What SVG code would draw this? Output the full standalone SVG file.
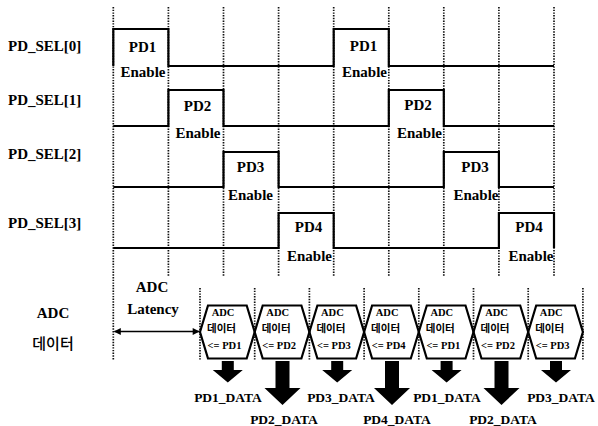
<svg xmlns="http://www.w3.org/2000/svg" width="598" height="426" viewBox="0 0 598 426">
<style>
.t{font-family:"Liberation Serif","Times New Roman",serif;font-weight:bold;fill:#000}
.lbl{font-size:15px}
.pd{font-size:15px;text-anchor:middle}
.hx{font-size:10.5px;text-anchor:middle}
.kr{font-family:"Noto Sans CJK KR",sans-serif;font-weight:500;fill:#000;text-anchor:middle}
.krb{font-family:"Noto Sans CJK KR",sans-serif;font-weight:bold;fill:#000;text-anchor:middle;font-size:10.5px}
.dl{font-size:13.5px;text-anchor:middle}
.grid{stroke:#111;stroke-width:1.7;stroke-dasharray:1.4 1.3;fill:none}
.wave{stroke:#000;stroke-width:2.2;fill:none;stroke-linejoin:miter}
.hex{stroke:#000;stroke-width:2.2;fill:none}
.blk{fill:#000}
</style>
<defs>
<marker id="ah" viewBox="0 0 10 10" refX="9" refY="5" markerWidth="8" markerHeight="7" markerUnits="userSpaceOnUse" orient="auto-start-reverse">
<path d="M0,0 L10,5 L0,10 z" fill="#000"/>
</marker>
</defs>
<rect width="598" height="426" fill="#fff"/>

<g id="grid">
<line class="grid" x1="113.3" y1="7" x2="113.3" y2="360"/>
<line class="grid" x1="168.4" y1="7" x2="168.4" y2="276"/>
<line class="grid" x1="223.5" y1="7" x2="223.5" y2="276"/>
<line class="grid" x1="278.6" y1="7" x2="278.6" y2="276"/>
<line class="grid" x1="333.7" y1="7" x2="333.7" y2="276"/>
<line class="grid" x1="388.8" y1="7" x2="388.8" y2="276"/>
<line class="grid" x1="443.8" y1="7" x2="443.8" y2="276"/>
<line class="grid" x1="498.9" y1="7" x2="498.9" y2="276"/>
<line class="grid" x1="554" y1="7" x2="554" y2="276"/>
<line class="grid" x1="200" y1="288" x2="200" y2="360"/>
<line class="grid" x1="254.7" y1="288" x2="254.7" y2="360"/>
<line class="grid" x1="309.4" y1="288" x2="309.4" y2="360"/>
<line class="grid" x1="364.1" y1="288" x2="364.1" y2="360"/>
<line class="grid" x1="418.8" y1="288" x2="418.8" y2="360"/>
<line class="grid" x1="473.5" y1="288" x2="473.5" y2="360"/>
<line class="grid" x1="528.2" y1="288" x2="528.2" y2="360"/>
<line class="grid" x1="582.9" y1="288" x2="582.9" y2="360"/>
</g>

<g id="pd_sel0">
<text class="t lbl" x="8" y="51">PD_SEL[0]</text>
<path class="wave" d="M113.3,66 V29 H168.4 V66 H333.7 V29 H388.8 V66 H554"/>
<text class="t pd" x="142.5" y="52">PD1</text>
<text class="t pd" x="143" y="77">Enable</text>
<text class="t pd" x="363.5" y="51">PD1</text>
<text class="t pd" x="364.5" y="77">Enable</text>
</g>

<g id="pd_sel1">
<text class="t lbl" x="8" y="105">PD_SEL[1]</text>
<path class="wave" d="M113.3,126 H168.4 V90 H223.5 V126 H388.8 V90 H443.8 V126 H554"/>
<text class="t pd" x="197.5" y="111">PD2</text>
<text class="t pd" x="198" y="138">Enable</text>
<text class="t pd" x="418" y="110">PD2</text>
<text class="t pd" x="419.5" y="138">Enable</text>
</g>

<g id="pd_sel2">
<text class="t lbl" x="8" y="159">PD_SEL[2]</text>
<path class="wave" d="M113.3,187 H223.5 V152 H278.6 V187 H443.8 V152 H498.9 V187 H554"/>
<text class="t pd" x="250.5" y="171.5">PD3</text>
<text class="t pd" x="250.5" y="200">Enable</text>
<text class="t pd" x="475" y="171.5">PD3</text>
<text class="t pd" x="476" y="200">Enable</text>
</g>

<g id="pd_sel3">
<text class="t lbl" x="8" y="228">PD_SEL[3]</text>
<path class="wave" d="M113.3,248 H278.6 V213 H333.7 V248 H498.9 V213 H554 V248"/>
<text class="t pd" x="308.5" y="231.5">PD4</text>
<text class="t pd" x="309.5" y="260.5">Enable</text>
<text class="t pd" x="529" y="231.5">PD4</text>
<text class="t pd" x="531" y="260.5">Enable</text>
</g>

<g id="adc_label">
<text class="t pd" x="53" y="318">ADC</text>
<text class="kr" x="53" y="349" font-size="15">데이터</text>
</g>

<g id="latency">
<text class="t pd" x="152" y="292">ADC</text>
<text class="t pd" x="153" y="313.5">Latency</text>
</g>

<g id="data1">
<polygon class="hex" points="200,332 208,305.5 246.7,305.5 254.7,332 246.7,358.5 208,358.5"/>
<text class="t hx" x="223" y="315.5">ADC</text>
<text class="krb" x="221.5" y="332">데이터</text>
<text class="t hx" x="224.5" y="349">&lt;= PD1</text>
</g>
<g id="data2">
<polygon class="hex" points="254.7,332 262.7,305.5 301.4,305.5 309.4,332 301.4,358.5 262.7,358.5"/>
<text class="t hx" x="277.7" y="315.5">ADC</text>
<text class="krb" x="276.2" y="332">데이터</text>
<text class="t hx" x="279.2" y="349">&lt;= PD2</text>
</g>
<g id="data3">
<polygon class="hex" points="309.4,332 317.4,305.5 356.1,305.5 364.1,332 356.1,358.5 317.4,358.5"/>
<text class="t hx" x="332.4" y="315.5">ADC</text>
<text class="krb" x="330.9" y="332">데이터</text>
<text class="t hx" x="333.9" y="349">&lt;= PD3</text>
</g>
<g id="data4">
<polygon class="hex" points="364.1,332 372.1,305.5 410.8,305.5 418.8,332 410.8,358.5 372.1,358.5"/>
<text class="t hx" x="387.1" y="315.5">ADC</text>
<text class="krb" x="385.6" y="332">데이터</text>
<text class="t hx" x="388.6" y="349">&lt;= PD4</text>
</g>
<g id="data5">
<polygon class="hex" points="418.8,332 426.8,305.5 465.5,305.5 473.5,332 465.5,358.5 426.8,358.5"/>
<text class="t hx" x="441.8" y="315.5">ADC</text>
<text class="krb" x="440.3" y="332">데이터</text>
<text class="t hx" x="443.3" y="349">&lt;= PD1</text>
</g>
<g id="data6">
<polygon class="hex" points="473.5,332 481.5,305.5 520.2,305.5 528.2,332 520.2,358.5 481.5,358.5"/>
<text class="t hx" x="496.5" y="315.5">ADC</text>
<text class="krb" x="495" y="332">데이터</text>
<text class="t hx" x="498" y="349">&lt;= PD2</text>
</g>
<g id="data7">
<polygon class="hex" points="528.2,332 536.2,305.5 574.9,305.5 582.9,332 574.9,358.5 536.2,358.5"/>
<text class="t hx" x="551.2" y="315.5">ADC</text>
<text class="krb" x="549.7" y="332">데이터</text>
<text class="t hx" x="552.7" y="349">&lt;= PD3</text>
</g>

<g id="outputs">
<text class="t dl" x="228" y="401.5">PD1_DATA</text>
<text class="t dl" x="284" y="423.5">PD2_DATA</text>
<text class="t dl" x="341" y="401.5">PD3_DATA</text>
<text class="t dl" x="397" y="423.5">PD4_DATA</text>
<text class="t dl" x="447" y="401.5">PD1_DATA</text>
<text class="t dl" x="503" y="423.5">PD2_DATA</text>
<text class="t dl" x="561" y="401.5">PD3_DATA</text>
</g>

<g id="connectors">
<line x1="114.5" y1="331.5" x2="199" y2="331.5" stroke="#000" stroke-width="1.6" marker-start="url(#ah)" marker-end="url(#ah)"/>
<polygon class="blk" points="221.8,361 233.8,361 233.8,370 242.8,370 227.8,382.5 212.8,370 221.8,370"/>
<polygon class="blk" points="275.5,361 289.5,361 289.5,388 300.5,388 282.5,405 264.5,388 275.5,388"/>
<polygon class="blk" points="331.2,361 343.2,361 343.2,370 352.2,370 337.2,382.5 322.2,370 331.2,370"/>
<polygon class="blk" points="385,361 399,361 399,388 410,388 392,405 374,388 385,388"/>
<polygon class="blk" points="440.6,361 452.6,361 452.6,370 461.6,370 446.6,382.5 431.6,370 440.6,370"/>
<polygon class="blk" points="494.5,361 508.5,361 508.5,388 519.5,388 501.5,405 483.5,388 494.5,388"/>
<polygon class="blk" points="550,361 562,361 562,370 571,370 556,382.5 541,370 550,370"/>
</g>
</svg>
